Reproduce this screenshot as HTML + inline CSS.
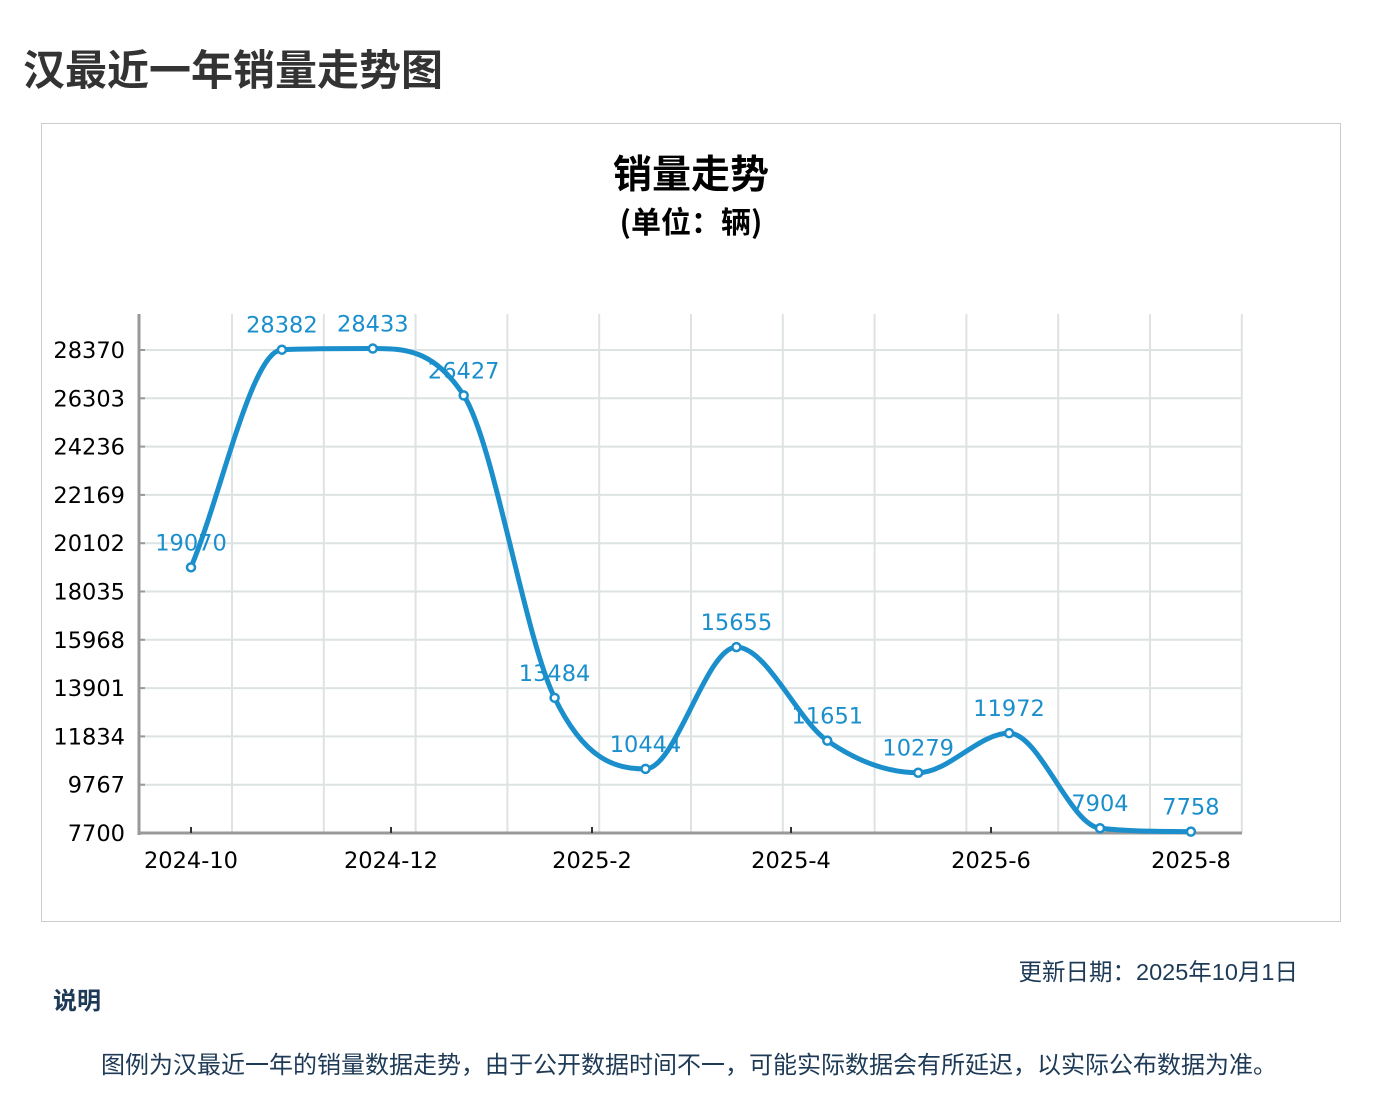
<!DOCTYPE html>
<html><head><meta charset="utf-8"><style>
body{margin:0;width:1374px;height:1110px;background:#fff;font-family:"Liberation Sans","Noto Sans CJK SC",sans-serif;position:relative;overflow:hidden}
.t{position:absolute;white-space:nowrap}
</style></head><body>
<div class="t" style="left:23px;top:37px;font-size:42px;font-weight:bold;color:#333">汉最近一年销量走势图</div>
<div style="position:absolute;left:41px;top:123px;width:1298px;height:797px;border:1.5px solid #ccc"></div>
<svg id="s" width="1374" height="1110" style="position:absolute;left:0;top:0" font-family="'DejaVu Sans','Liberation Sans',sans-serif">
<text x="691" y="188" text-anchor="middle" font-size="39" font-weight="bold" font-family="'Noto Sans CJK SC',sans-serif">销量走势</text>
<text x="691" y="233" text-anchor="middle" font-size="30" font-weight="bold" font-family="'Noto Sans CJK SC',sans-serif">(单位：辆)</text>
<g id="g"></g>
</svg>
<div class="t" style="right:76px;top:953px;font-size:23.5px;color:#1e3a56">更新日期：2025年10月1日</div>
<div class="t" style="left:53px;top:981px;font-size:24px;font-weight:bold;color:#1e3a56">说明</div>
<div class="t" style="left:101px;top:1045px;font-size:24px;color:#1e3a56">图例为汉最近一年的销量数据走势，由于公开数据时间不一，可能实际数据会有所延迟，以实际公布数据为准。</div>
<script>
var g=document.getElementById('g'),h='';
var L=139,R=1242,T=314,B=833;
for(var i=0;i<12;i++){var x=232+i*91.8;h+='<line x1="'+x+'" y1="'+T+'" x2="'+x+'" y2="'+B+'" stroke="#dde2e2" stroke-width="2"/>';}
var yl=[28370,26303,24236,22169,20102,18035,15968,13901,11834,9767,7700];
for(var i=0;i<11;i++){var y=350+i*48.3;if(i<10)h+='<line x1="'+L+'" y1="'+y+'" x2="'+R+'" y2="'+y+'" stroke="#dde2e2" stroke-width="2"/>';
h+='<line x1="'+L+'" y1="'+y+'" x2="'+(L+6)+'" y2="'+y+'" stroke="#999" stroke-width="2"/>';
h+='<text x="125" y="'+(y+8)+'" text-anchor="end" font-size="22.5">'+yl[i]+'</text>';}
h+='<line x1="'+L+'" y1="'+T+'" x2="'+L+'" y2="'+(B+2)+'" stroke="#999" stroke-width="3"/>';
h+='<line x1="'+L+'" y1="'+B+'" x2="'+R+'" y2="'+B+'" stroke="#999" stroke-width="3"/>';
var xl=['2024-10','2024-12','2025-2','2025-4','2025-6','2025-8'],xt=[191,391,592,791,991,1191];
for(var i=0;i<6;i++){h+='<line x1="'+xt[i]+'" y1="'+(B-6)+'" x2="'+xt[i]+'" y2="'+B+'" stroke="#333" stroke-width="2"/>';
h+='<text x="'+xt[i]+'" y="'+(B+35)+'" text-anchor="middle" font-size="22.5">'+xl[i]+'</text>';}
var v=[19070,28382,28433,26427,13484,10444,15655,11651,10279,11972,7904,7758];
var P=v.map(function(a,i){return [191+i*90.9,833-(a-7700)/2067*48.3];});
var n=P.length,d=[],m=[];
for(var i=0;i<n-1;i++)d.push((P[i+1][1]-P[i][1])/(P[i+1][0]-P[i][0]));
m[0]=d[0];m[n-1]=d[n-2];
for(var i=1;i<n-1;i++){m[i]=(d[i-1]*d[i]<=0)?0:(d[i-1]+d[i])/2;}
for(var i=0;i<n-1;i++){if(d[i]==0){m[i]=m[i+1]=0;continue;}var a=m[i]/d[i],b=m[i+1]/d[i],s=a*a+b*b;if(s>9){var t=3/Math.sqrt(s);m[i]=t*a*d[i];m[i+1]=t*b*d[i];}}
var p='M'+P[0][0]+','+P[0][1];
for(var i=0;i<n-1;i++){var dx=(P[i+1][0]-P[i][0])/3;p+=' C'+(P[i][0]+dx)+','+(P[i][1]+m[i]*dx)+' '+(P[i+1][0]-dx)+','+(P[i+1][1]-m[i+1]*dx)+' '+P[i+1][0]+','+P[i+1][1];}
h+='<path d="'+p+'" fill="none" stroke="#1a8fcc" stroke-width="5"/>';
for(var i=0;i<n;i++){h+='<circle cx="'+P[i][0]+'" cy="'+P[i][1]+'" r="4" fill="#fff" stroke="#1a8fcc" stroke-width="2.5"/>';
h+='<text x="'+P[i][0]+'" y="'+(P[i][1]-17)+'" text-anchor="middle" font-size="22.5" fill="#1a8fcc">'+v[i]+'</text>';}
g.innerHTML=h;
</script>
</body></html>
